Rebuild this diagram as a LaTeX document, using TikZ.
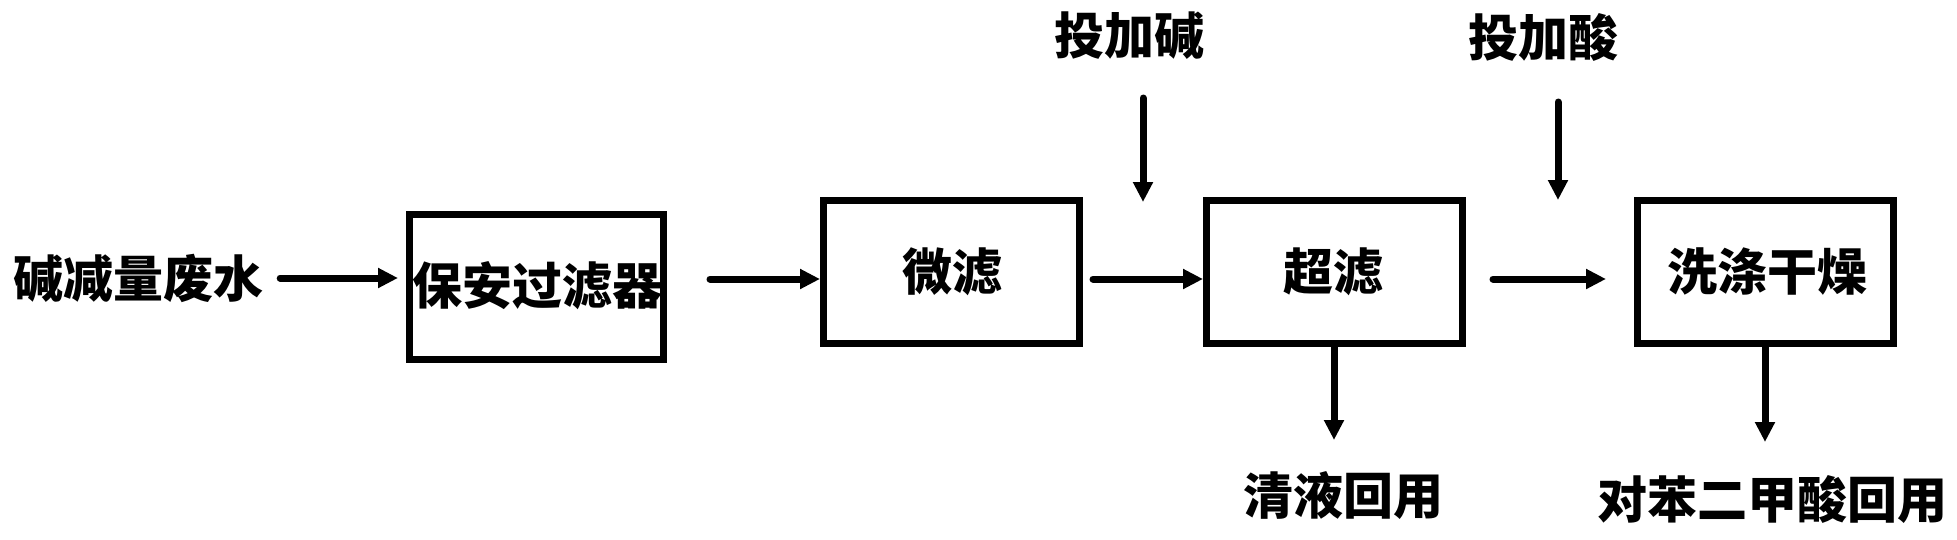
\documentclass[tikz,border=0pt]{standalone}
\usepackage{fontspec}
\newfontfamily\cjk{Noto Sans CJK SC}
\usetikzlibrary{arrows.meta,calc}
\begin{document}
\begin{tikzpicture}[x=1pt,y=-1pt,
  lbl/.style={font=\cjk\bfseries\fontsize{50}{60}\selectfont, inner sep=0pt},
  procbox/.style={draw, line width=7pt, minimum width=256pt, minimum height=143pt, inner sep=0pt},
  arr/.style={line width=7pt, line cap=round, -{Triangle[length=20pt,width=19pt]}}]
\useasboundingbox (0,0) rectangle (1957,539);
% process boxes
\node[procbox, minimum width=254pt, minimum height=145pt] (b1) at (536.5,287) {};
\node[procbox] (b2) at (951.5,272) {};
\node[procbox] (b3) at (1334.5,272) {};
\node[procbox] (b4) at (1765.5,272) {};
% labels
\node[lbl] (src) at (138,278) {碱减量废水};
\node[lbl] (t1) at (537,286) {保安过滤器};
\node[lbl] (t2) at (952,272) {微滤};
\node[lbl] (t3) at (1333,272) {超滤};
\node[lbl] (t4) at (1767,272) {洗涤干燥};
\node[lbl] (alk) at (1129,36) {投加碱};
\node[lbl] (acid) at (1543,37) {投加酸};
\node[lbl] (clear) at (1343,496) {清液回用};
\node[lbl] (pta) at (1772,500) {对苯二甲酸回用};
% helper coordinates
\coordinate (ly) at (0,279);
\coordinate (alkS) at (1143,98);
\coordinate (alkE) at (1143,202);
\coordinate (acidS) at (1558,102);
\coordinate (acidE) at (1558,200);
\coordinate (clearE) at (1334,440);
\coordinate (ptaE) at (1765,442);
% connectors
\draw[arr, shorten <=17pt, shorten >=8pt] (src.east) -- (src.east -| b1.west);
\draw[arr, shorten <=43pt] (b1.east |- ly) -- (b2.west |- ly);
\draw[arr, shorten <=10pt] (b2.east |- ly) -- (b3.west |- ly);
\draw[arr, shorten <=27pt, shorten >=28pt] (b3.east |- ly) -- (b4.west |- ly);
\draw[arr] (alkS) -- (alkE);
\draw[arr] (acidS) -- (acidE);
\draw[arr] (clearE |- b3.south) -- (clearE);
\draw[arr] (ptaE |- b4.south) -- (ptaE);
\end{tikzpicture}
\end{document}
